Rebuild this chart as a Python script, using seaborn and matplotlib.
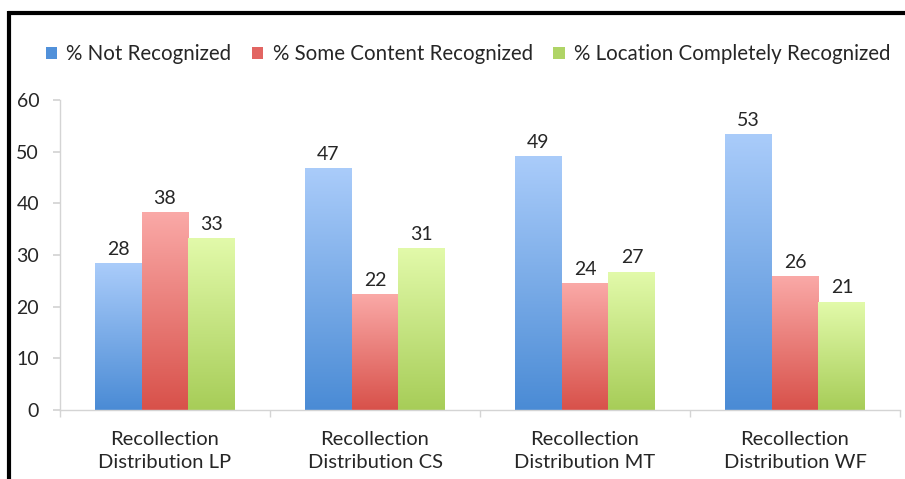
import numpy as np
import pandas as pd
import matplotlib
matplotlib.use("Agg")
import matplotlib.pyplot as plt
import seaborn as sns
from matplotlib.colors import LinearSegmentedColormap
from matplotlib.patches import Patch
from matplotlib.lines import Line2D

categories = ["Recollection\nDistribution LP", "Recollection\nDistribution CS",
              "Recollection\nDistribution MT", "Recollection\nDistribution WF"]
series = ["% Not Recognized", "% Some Content Recognized", "% Location Completely Recognized"]
not_recognized = [28.4, 46.8, 49.0, 53.4]
some_content = [38.2, 22.3, 24.4, 25.9]
location_complete = [33.2, 31.2, 26.7, 20.9]
yticks = [0, 10, 20, 30, 40, 50, 60]

df = pd.DataFrame({
    "category": categories * 3,
    "series": [series[0]] * 4 + [series[1]] * 4 + [series[2]] * 4,
    "value": not_recognized + some_content + location_complete,
})

# gradient (top, bottom) colours per series
grad = {
    series[0]: ("#AACCFA", "#4A8BD5"),
    series[1]: ("#FAA9A7", "#D8514A"),
    series[2]: ("#E2FAAA", "#A7CD58"),
}
legend_cols = ["#5191DA", "#E26562", "#AFD466"]

sns.set_theme(style="white")
plt.rcParams["font.family"] = ["Lato", "DejaVu Sans"]
txt = "#262626"
grid = "#D4D4D4"

fig = plt.figure(figsize=(9.05, 4.79), dpi=100)
ax = fig.add_axes([60 / 905, 69 / 479, 840 / 905, 310 / 479])

sns.barplot(data=df, x="category", y="value", hue="series", hue_order=series,
            order=categories, palette=legend_cols, width=0.67, ax=ax,
            legend=False, linewidth=0, errorbar=None)

for cont, name in zip(ax.containers, series):
    top, bot = grad[name]
    cmap = LinearSegmentedColormap.from_list(name, [bot, top])
    g = np.linspace(0, 1, 256).reshape(-1, 1)
    for p in cont.patches:
        x0, w, h = p.get_x(), p.get_width(), p.get_height()
        p.set_facecolor("none")
        p.set_edgecolor("none")
        ax.imshow(g, extent=[x0, x0 + w, 0, h], origin="lower", aspect="auto",
                  cmap=cmap, zorder=2, interpolation="bicubic")
    ax.bar_label(cont, labels=[f"{v:.0f}" for v in cont.datavalues],
                 padding=4, fontsize=14, color=txt)

ax.set_xlim(-0.5, 3.5)
ax.set_ylim(0, 60)
ax.set_yticks(yticks)
ax.set_xlabel("")
ax.set_ylabel("")

for s in ["top", "right"]:
    ax.spines[s].set_visible(False)
for s in ["left", "bottom"]:
    ax.spines[s].set_color(grid)
    ax.spines[s].set_linewidth(1.0)

ax.tick_params(axis="y", which="major", length=5, color=grid, direction="out",
               labelsize=14, labelcolor=txt, pad=10, left=True)
ax.set_xticks([-0.5, 0.5, 1.5, 2.5, 3.5], minor=True)
ax.tick_params(axis="x", which="minor", length=5, color=grid, direction="out", bottom=True)
ax.tick_params(axis="x", which="major", length=0, labelsize=14.5, labelcolor=txt, pad=15)
for lab in ax.get_xticklabels():
    lab.set_linespacing(1.45)

handles = [Patch(facecolor=c, edgecolor="none") for c in legend_cols]
fig.legend(handles, series, loc="center", bbox_to_anchor=(468 / 905, 1 - 54 / 479),
           ncol=3, frameon=False, fontsize=14.8, handlelength=0.55, handleheight=0.55,
           handletextpad=0.45, columnspacing=1.0, labelcolor=txt)

# black frame (top and left)
fig.add_artist(Line2D([7.5 / 905, 1.0], [1 - 12.5 / 479, 1 - 12.5 / 479],
                      transform=fig.transFigure, color="black", linewidth=3.0,
                      solid_capstyle="butt"))
fig.add_artist(Line2D([8.5 / 905, 8.5 / 905], [0, 1 - 11 / 479],
                      transform=fig.transFigure, color="black", linewidth=3.0,
                      solid_capstyle="butt"))

fig.savefig("out.png", dpi=100)
